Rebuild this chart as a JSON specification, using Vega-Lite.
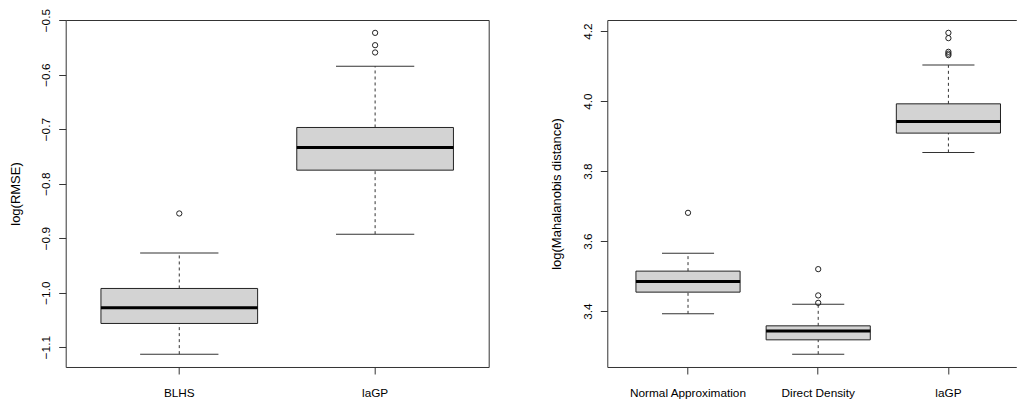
{
  "$schema": "https://vega.github.io/schema/vega-lite/v6.json",
  "background": "white",
  "padding": {"left": 8.7, "top": 8, "right": 0, "bottom": 0},
  "spacing": 118.6,
  "bounds": "flush",
  "config": {
    "font": "Liberation Sans",
    "view": {"stroke": "#333", "strokeWidth": 1},
    "axis": {
      "labelFont": "Liberation Sans",
      "titleFont": "Liberation Sans",
      "labelFontSize": 11.8,
      "titleFontSize": 13,
      "titleFontWeight": "normal",
      "labelColor": "#000",
      "titleColor": "#000",
      "tickColor": "#333",
      "domainColor": "#333",
      "tickSize": 7,
      "tickWidth": 1,
      "domainWidth": 1,
      "grid": false
    },
    "axisX": {"labelAngle": 0, "labelPadding": 13.7},
    "axisY": {
      "labelAngle": -90,
      "labelAlign": "center",
      "labelBaseline": "alphabetic",
      "labelPadding": 9,
      "minExtent": 30,
      "maxExtent": 30,
      "titlePadding": 16.5,
      "titleBaseline": "alphabetic",
      "labelOverlap": false
    }
  },
  "datasets": {
    "rmse_box": [
      {"method": "BLHS", "lower": -1.1128, "q1": -1.0565, "median": -1.0279, "q3": -0.9923, "upper": -0.9270},
      {"method": "laGP", "lower": -0.8927, "q1": -0.7752, "median": -0.7336, "q3": -0.6969, "upper": -0.5844}
    ],
    "rmse_out": [
      {"method": "BLHS", "value": -0.8547},
      {"method": "laGP", "value": -0.5233},
      {"method": "laGP", "value": -0.5459},
      {"method": "laGP", "value": -0.5593}
    ],
    "maha_box": [
      {"method": "Normal Approximation", "lower": 3.3923, "q1": 3.4543, "median": 3.4849, "q3": 3.5143, "upper": 3.5657},
      {"method": "Direct Density", "lower": 3.2771, "q1": 3.318, "median": 3.3429, "q3": 3.358, "upper": 3.42},
      {"method": "laGP", "lower": 3.8534, "q1": 3.9086, "median": 3.942, "q3": 3.9923, "upper": 4.1029}
    ],
    "maha_out": [
      {"method": "Normal Approximation", "value": 3.6809},
      {"method": "Direct Density", "value": 3.52},
      {"method": "Direct Density", "value": 3.4449},
      {"method": "Direct Density", "value": 3.4237},
      {"method": "laGP", "value": 4.1951},
      {"method": "laGP", "value": 4.18},
      {"method": "laGP", "value": 4.1409},
      {"method": "laGP", "value": 4.1357},
      {"method": "laGP", "value": 4.1314}
    ]
  },
  "hconcat": [
    {
      "width": 423,
      "height": 347,
      "encoding": {
        "x": {
          "field": "method",
          "type": "nominal",
          "sort": ["BLHS", "laGP"],
          "scale": {"paddingInner": 0.2, "paddingOuter": 0.18},
          "axis": {"title": null, "domain": false}
        }
      },
      "layer": [
        {
          "data": {"name": "rmse_box"},
          "mark": {"type": "rule", "strokeDash": [3, 3], "color": "#333", "strokeWidth": 1},
          "encoding": {
            "y": {
              "field": "lower", "type": "quantitative", "title": "log(RMSE)",
              "scale": {"domain": [-1.1364, -0.4997], "nice": false, "zero": false},
              "axis": {"values": [-1.1, -1.0, -0.9, -0.8, -0.7, -0.6, -0.5], "format": ".1f", "domain": false}
            },
            "y2": {"field": "q1"}
          }
        },
        {
          "data": {"name": "rmse_box"},
          "mark": {"type": "rule", "strokeDash": [3, 3], "color": "#333", "strokeWidth": 1},
          "encoding": {
            "y": {"field": "q3", "type": "quantitative", "title": "log(RMSE)"},
            "y2": {"field": "upper"}
          }
        },
        {
          "data": {"name": "rmse_box"},
          "mark": {"type": "tick", "color": "#333", "size": 78.3, "thickness": 1, "opacity": 1},
          "encoding": {"y": {"field": "lower", "type": "quantitative", "title": "log(RMSE)"}}
        },
        {
          "data": {"name": "rmse_box"},
          "mark": {"type": "tick", "color": "#333", "size": 78.3, "thickness": 1, "opacity": 1},
          "encoding": {"y": {"field": "upper", "type": "quantitative", "title": "log(RMSE)"}}
        },
        {
          "data": {"name": "rmse_box"},
          "mark": {"type": "bar", "fill": "#d3d3d3", "stroke": "#222", "strokeWidth": 1, "opacity": 1},
          "encoding": {
            "y": {"field": "q1", "type": "quantitative", "title": "log(RMSE)"},
            "y2": {"field": "q3"}
          }
        },
        {
          "data": {"name": "rmse_box"},
          "mark": {"type": "tick", "color": "#000", "size": 156.7, "thickness": 3, "opacity": 1},
          "encoding": {"y": {"field": "median", "type": "quantitative", "title": "log(RMSE)"}}
        },
        {
          "data": {"name": "rmse_out"},
          "mark": {"type": "point", "shape": "circle", "filled": false, "stroke": "#222", "strokeWidth": 1, "size": 28, "opacity": 1},
          "encoding": {"y": {"field": "value", "type": "quantitative", "title": "log(RMSE)"}}
        }
      ]
    },
    {
      "width": 409,
      "height": 347,
      "view": {"stroke": null},
      "resolve": {"axis": {"x": "independent"}},
      "layer": [
        {
          "data": {"name": "maha_box"},
          "mark": {"type": "rule", "strokeDash": [3, 3], "color": "#333", "strokeWidth": 1},
          "encoding": {
            "x": {
              "field": "method", "type": "nominal",
              "sort": ["Normal Approximation", "Direct Density", "laGP"],
              "scale": {"paddingInner": 0.2, "paddingOuter": 0.1707, "align": 0.6445},
              "axis": {"title": null, "domain": true}
            },
            "y": {
              "field": "lower", "type": "quantitative", "title": "log(Mahalanobis distance)",
              "scale": {"domain": [3.2404, 4.2318], "nice": false, "zero": false},
              "axis": {"values": [3.4, 3.6, 3.8, 4.0, 4.2], "format": ".1f", "domain": true}
            },
            "y2": {"field": "q1"}
          }
        },
        {
          "data": {"name": "maha_box"},
          "mark": {"type": "rule", "strokeDash": [3, 3], "color": "#333", "strokeWidth": 1},
          "encoding": {
            "x": {"field": "method", "type": "nominal", "sort": ["Normal Approximation", "Direct Density", "laGP"], "axis": null},
            "y": {"field": "q3", "type": "quantitative", "title": "log(Mahalanobis distance)"},
            "y2": {"field": "upper"}
          }
        },
        {
          "data": {"name": "maha_box"},
          "mark": {"type": "tick", "color": "#333", "size": 52.1, "thickness": 1, "opacity": 1},
          "encoding": {
            "x": {"field": "method", "type": "nominal", "sort": ["Normal Approximation", "Direct Density", "laGP"], "axis": null},
            "y": {"field": "lower", "type": "quantitative", "title": "log(Mahalanobis distance)"}
          }
        },
        {
          "data": {"name": "maha_box"},
          "mark": {"type": "tick", "color": "#333", "size": 52.1, "thickness": 1, "opacity": 1},
          "encoding": {
            "x": {"field": "method", "type": "nominal", "sort": ["Normal Approximation", "Direct Density", "laGP"], "axis": null},
            "y": {"field": "upper", "type": "quantitative", "title": "log(Mahalanobis distance)"}
          }
        },
        {
          "data": {"name": "maha_box"},
          "mark": {"type": "bar", "fill": "#d3d3d3", "stroke": "#222", "strokeWidth": 1, "opacity": 1},
          "encoding": {
            "x": {"field": "method", "type": "nominal", "sort": ["Normal Approximation", "Direct Density", "laGP"], "axis": null},
            "y": {"field": "q1", "type": "quantitative", "title": "log(Mahalanobis distance)"},
            "y2": {"field": "q3"}
          }
        },
        {
          "data": {"name": "maha_box"},
          "mark": {"type": "tick", "color": "#000", "size": 104.2, "thickness": 3, "opacity": 1},
          "encoding": {
            "x": {"field": "method", "type": "nominal", "sort": ["Normal Approximation", "Direct Density", "laGP"], "axis": null},
            "y": {"field": "median", "type": "quantitative", "title": "log(Mahalanobis distance)"}
          }
        },
        {
          "data": {"name": "maha_out"},
          "mark": {"type": "point", "shape": "circle", "filled": false, "stroke": "#222", "strokeWidth": 1, "size": 28, "opacity": 1},
          "encoding": {
            "x": {
              "field": "method", "type": "nominal",
              "sort": ["Normal Approximation", "Direct Density", "laGP"],
              "axis": {"orient": "top", "labels": false, "ticks": false, "domain": true, "title": null}
            },
            "y": {"field": "value", "type": "quantitative", "title": "log(Mahalanobis distance)"}
          }
        }
      ]
    }
  ]
}
